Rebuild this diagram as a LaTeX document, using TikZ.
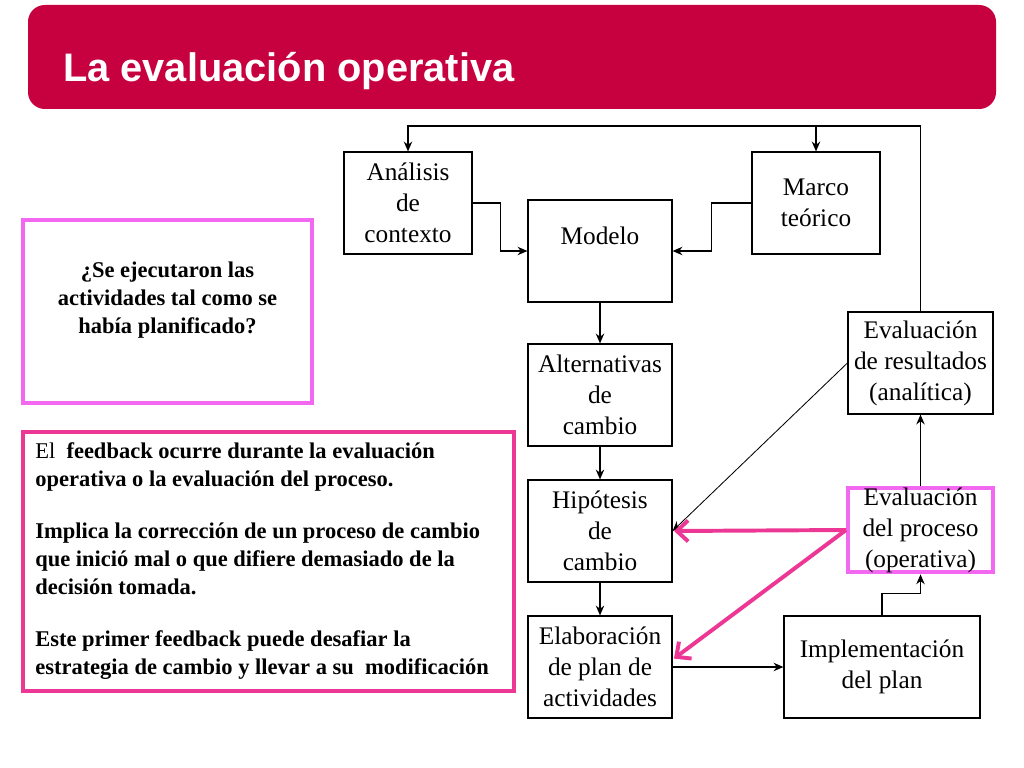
\documentclass[tikz,border=0pt]{standalone}
\usepackage{fontspec}
\setmainfont{Liberation Serif}
\newfontfamily\titlefont{Liberation Sans}
\usetikzlibrary{arrows.meta,positioning}
\definecolor{banner}{RGB}{199,0,63}
\definecolor{lila}{RGB}{243,104,240}
\definecolor{rosa}{RGB}{236,56,148}
\tikzset{
  box/.style={draw, line width=0.8pt, align=center, inner sep=0pt,
    minimum width=3.6cm, minimum height=2.55cm, font=\fontsize{18}{22}\selectfont},
  arr/.style={-{Stealth[length=7pt,width=6pt]}, line width=0.8pt},
  pinkarr/.style={-{Straight Barb[length=8pt,width=15pt]}, rosa, line width=2.8pt},
  note/.style={align=center, font=\fontsize{16}{20}\selectfont\bfseries},
}

\begin{document}
\begin{tikzpicture}[x=0.025cm,y=-0.025cm]
    \useasboundingbox (0,0) rectangle (1024,768);

    % Title
    \fill[banner, rounded corners=12pt] (28,5) rectangle (996,109);
    \node[anchor=base west, white, inner sep=0pt,
      font=\titlefont\fontsize{28.3}{34}\selectfont\bfseries] (title) at (63,82) {La evaluación operativa};

    % Nodes
    \node[box, minimum width=3.2cm] (ana) at (408,203) {Análisis\\de\\contexto};
    \node[box, minimum width=3.2cm] (marco) at (816,203) {Marco\\teórico};
    \node[box] (modelo) at (600,251) {Modelo\\\mbox{}};
    \node[box] (alt) at (600,395) {Alternativas\\de\\cambio};
    \node[box] (hip) at (600,531) {Hipótesis\\de\\cambio};
    \node[box] (elab) at (600,667) {Elaboración\\de plan de\\actividades};
    \node[box, minimum width=4.9cm] (impl) at (882,667) {Implementación\\del plan};
    \node[box, minimum width=3.625cm] (evr) at (920.5,363) {Evaluación\\de resultados\\(analítica)};
    \node[box, draw=lila, line width=2.8pt, minimum width=3.625cm, minimum height=2.1cm] (evp)
      at (920.5,530) {Evaluación\\del proceso\\(operativa)};

    \node[draw=lila, line width=2.8pt, minimum width=7.225cm, minimum height=4.575cm] (pregunta)
      at (167.5,311.5) {};
    \node[note] (ptxt) at (167.5,300) {¿Se ejecutaron las\\actividades tal como se\\había planificado?};

    \node[draw=rosa, line width=2.8pt, minimum width=12.275cm, minimum height=6.475cm] (fb)
      at (268.5,561.5) {};
    \node[anchor=north west, align=left, inner sep=0pt,
      font=\fontsize{16}{20}\selectfont] (fbtxt) at (35,442)
      {El\ \ \textbf{feedback ocurre durante la evaluación}\\
       \textbf{operativa o la evaluación del proceso.}\\[17pt]
       \textbf{Implica la corrección de un proceso de cambio}\\
       \textbf{que inició mal o que difiere demasiado de la}\\
       \textbf{decisión tomada.}\\[17pt]
       \textbf{Este primer feedback puede desafiar la}\\
       \textbf{estrategia de cambio y llevar a su\ \ modificación}};

    % Arrows
    \coordinate (top) at (0,126);
    \draw[arr] (evr.north) -- (evr.north |- top) -| (ana.north);
    \draw[arr] (marco.north |- top) -- (marco.north);
    \draw[arr] (ana.east) -- ++(28,0) |- (modelo.west);
    \draw[arr] (marco.west) -- ++(-40,0) |- (modelo.east);
    \draw[arr] (modelo) -- (alt);
    \draw[arr] (alt) -- (hip);
    \draw[arr] (hip) -- (elab);
    \draw[arr] (elab) -- (impl);
    \draw[arr] (impl.north) -- ++(0,-22) -| (evp.south);
    \draw[arr] (evp) -- (evr);
    \draw[arr, line width=0.6pt] (evr.west) -- (hip.east);
    \draw[pinkarr] (evp.west) -- ([xshift=1pt]hip.east);
    \draw[pinkarr] (evp.west) -- ([xshift=1pt,yshift=6pt]elab.east);
\end{tikzpicture}
\end{document}
